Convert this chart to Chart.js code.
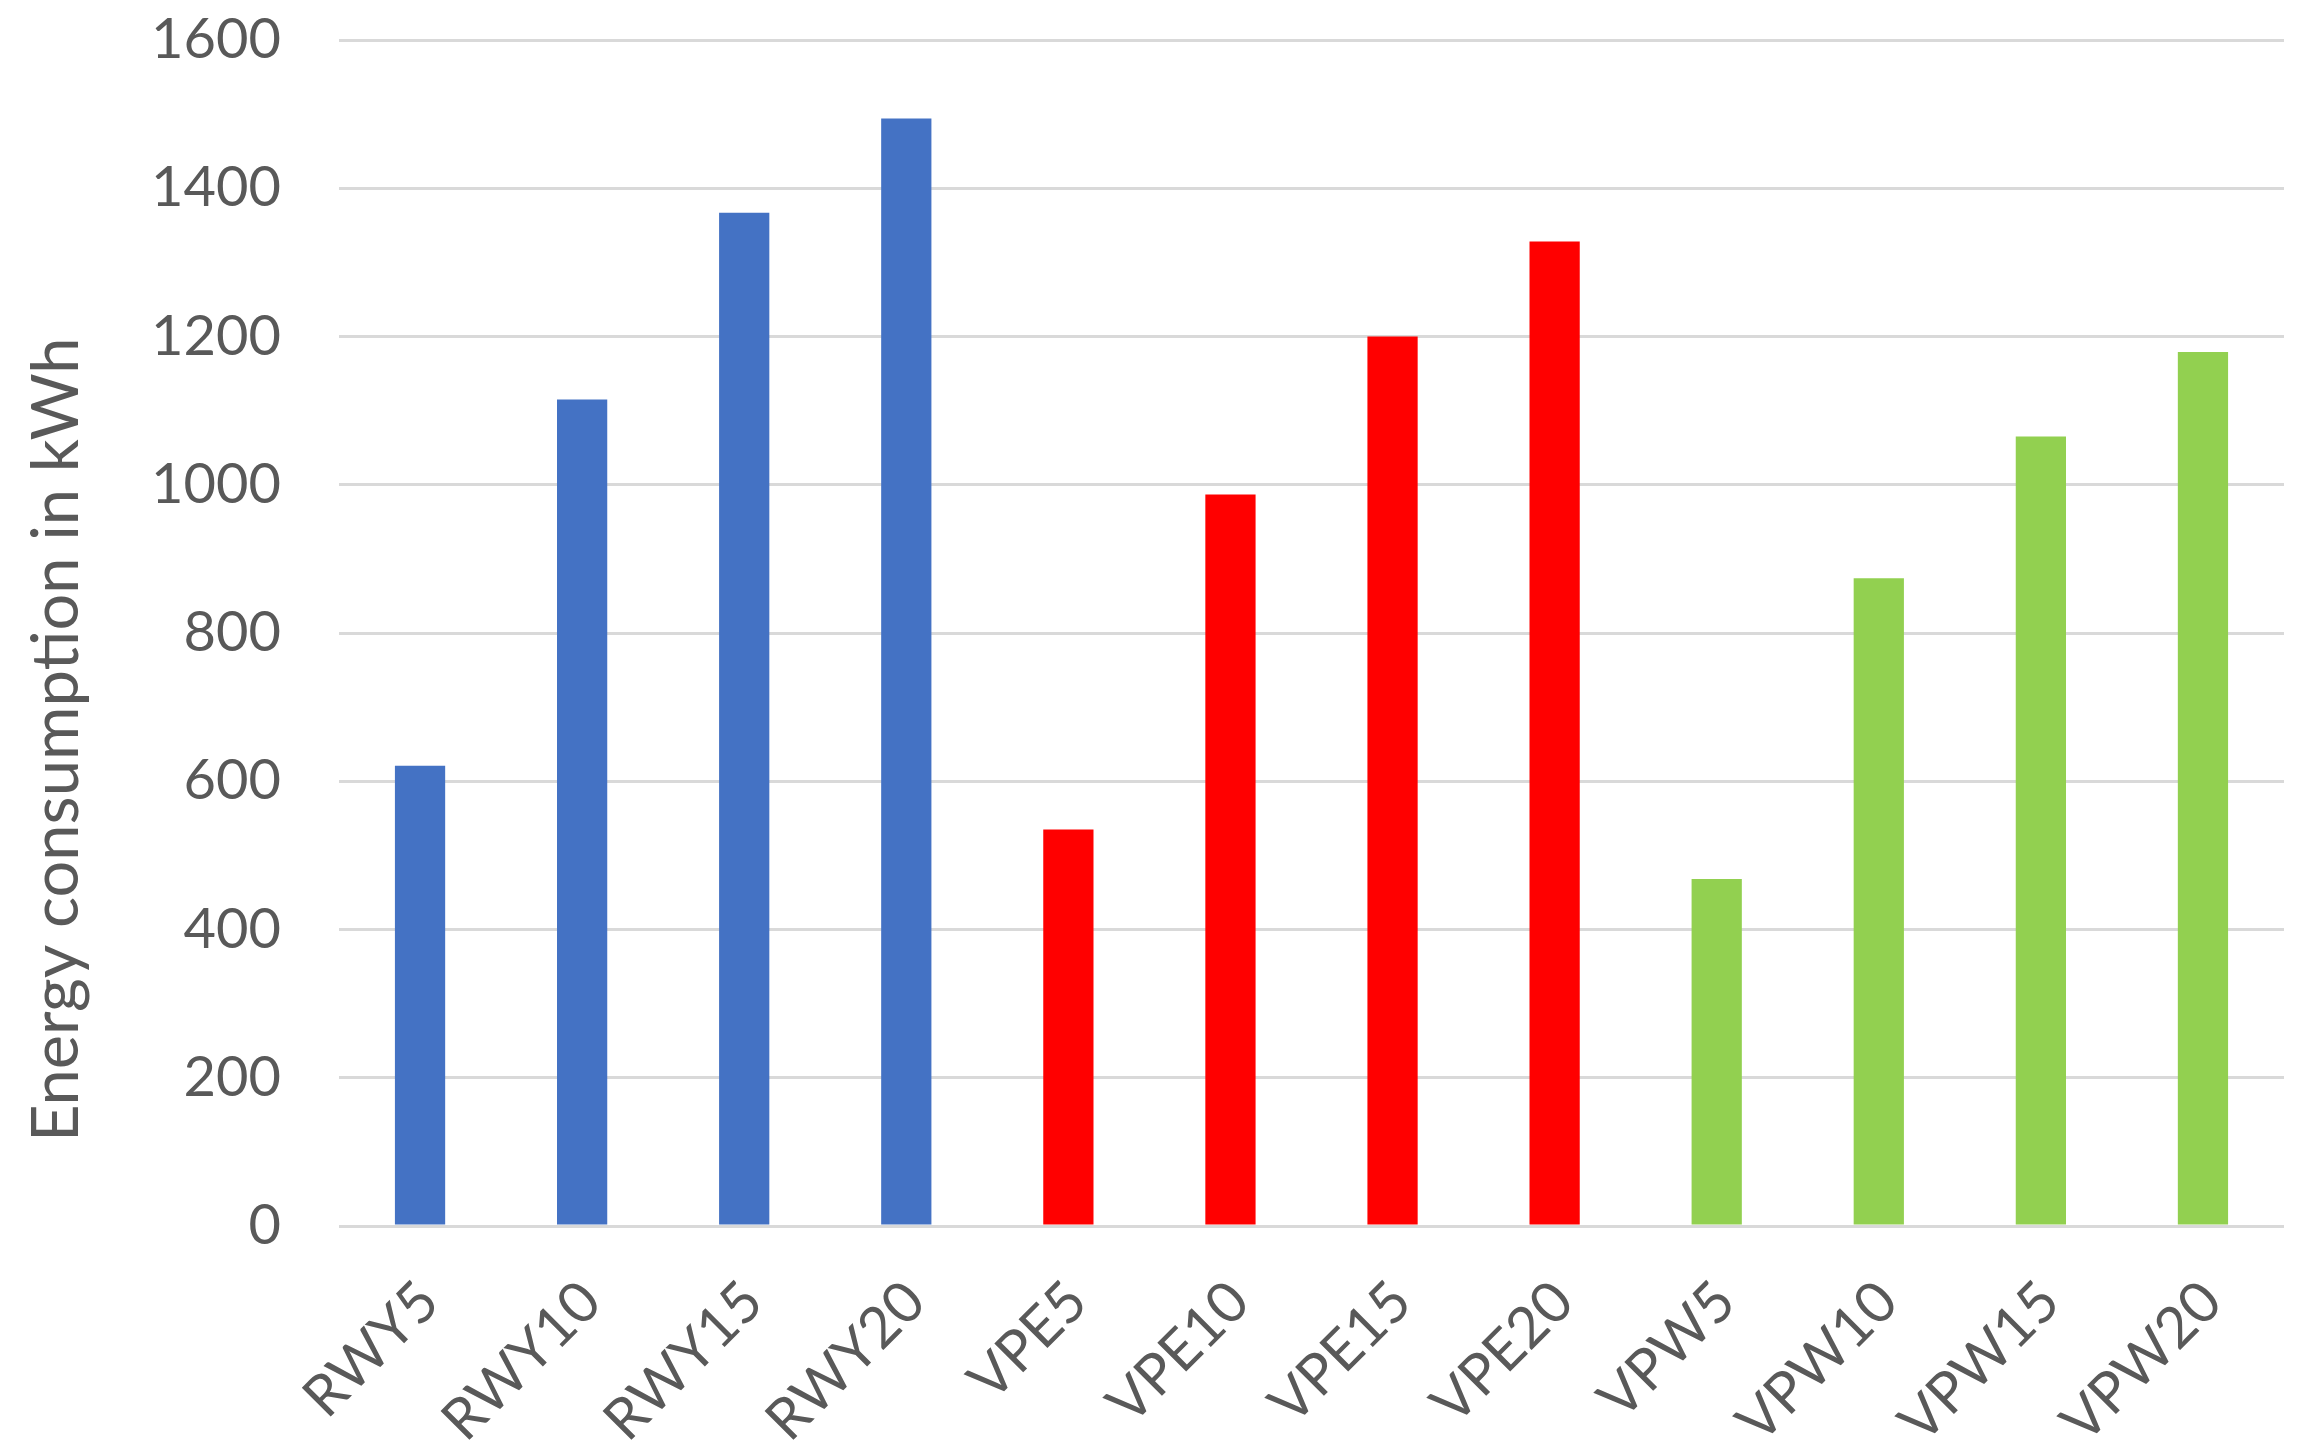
<!DOCTYPE html>
<html>
<head>
<meta charset="utf-8">
<script src="https://cdn.jsdelivr.net/npm/chart.js@4/dist/chart.umd.min.js"></script>
<style>
  html, body { margin: 0; padding: 0; background: #ffffff; }
  #wrap { width: 2313px; height: 1451px; }
</style>
</head>
<body>
<div id="wrap"><canvas id="c" width="2313" height="1451"></canvas></div>
<script>
const categories = ["RWY5", "RWY10", "RWY15", "RWY20", "VPE5", "VPE10", "VPE15", "VPE20", "VPW5", "VPW10", "VPW15", "VPW20"];
const rwyValues = [621, 1115, 1367, 1494];
const vpeValues = [535, 987, 1200, 1328];
const vpwValues = [468, 874, 1065, 1179];
const yTicks = [0, 200, 400, 600, 800, 1000, 1200, 1400, 1600];
const axisTitle = "Energy consumption in kWh";

const groupColors = ["#4472C4", "#FF0000", "#92D050"];
const values = [...rwyValues, ...vpeValues, ...vpwValues];
const colors = [
  ...rwyValues.map(() => groupColors[0]),
  ...vpeValues.map(() => groupColors[1]),
  ...vpwValues.map(() => groupColors[2])
];

const FONT = "Lato, 'Liberation Sans', sans-serif";
const TXT = "#595959";

// Y-axis title drawn slightly below the plot centre, as in the original
const yTitlePlugin = {
  id: "yTitle",
  afterDraw(chart) {
    const ctx = chart.ctx;
    const ca = chart.chartArea;
    ctx.save();
    ctx.translate(57, ca.top + (ca.bottom - ca.top) * 0.59);
    ctx.rotate(-Math.PI / 2);
    ctx.fillStyle = TXT;
    ctx.font = "65px " + FONT;
    ctx.textAlign = "center";
    ctx.textBaseline = "middle";
    ctx.fillText(axisTitle, 0, 0);
    ctx.restore();
  }
};

new Chart(document.getElementById("c"), {
  type: "bar",
  data: {
    labels: categories,
    datasets: [{
      data: values,
      backgroundColor: colors,
      borderWidth: 0,
      barPercentage: 0.31,
      categoryPercentage: 1.0
    }]
  },
  plugins: [yTitlePlugin],
  options: {
    responsive: false,
    animation: false,
    devicePixelRatio: 1,
    layout: { padding: { top: 40, right: 29, bottom: 0, left: 0 } },
    plugins: { legend: { display: false }, tooltip: { enabled: false } },
    scales: {
      x: {
        grid: { display: false, drawTicks: false },
        border: { display: false },
        ticks: {
          color: TXT,
          font: { family: FONT, size: 57 },
          minRotation: 45,
          maxRotation: 45,
          padding: 42,
          labelOffset: 9,
          autoSkip: false
        },
        afterFit: (s) => { s.height = 225; }
      },
      y: {
        min: yTicks[0],
        max: yTicks[yTicks.length - 1],
        afterBuildTicks: (s) => { s.ticks = yTicks.map(v => ({ value: v })); },
        grid: { color: "#D9D9D9", lineWidth: 3, drawTicks: true, tickLength: 58, tickColor: "rgba(0,0,0,0)" },
        border: { display: false },
        ticks: {
          color: TXT,
          font: { family: FONT, size: 56 },
          padding: 0,
          callback: (v) => String(v)
        },
        title: { display: false },
        afterFit: (s) => { s.width = 339; }
      }
    }
  }
});
</script>
</body>
</html>
